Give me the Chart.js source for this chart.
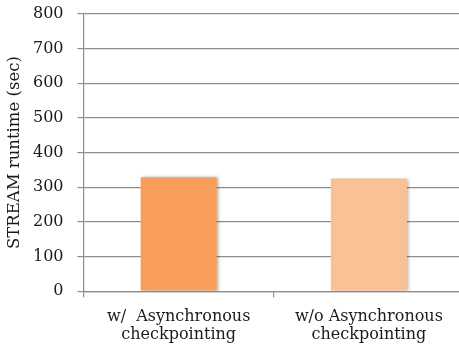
<!DOCTYPE html>
<html>
<head>
<meta charset="utf-8">
<script src="https://cdn.jsdelivr.net/npm/chart.js@4/dist/chart.umd.min.js"></script>
<style>
  html, body { margin: 0; padding: 0; background: #fff; overflow: hidden; }
  #wrap { position: relative; width: 472px; height: 349px; }
</style>
</head>
<body>
<div id="wrap"><canvas id="c"></canvas></div>
<script>
// STREAM runtime with and without asynchronous checkpointing
const categories = [
  ['w/  Asynchronous', 'checkpointing'],
  ['w/o Asynchronous', 'checkpointing']
];
const runtimeSec = [329, 325];
const barColors = ['#F79F5A', '#FAC196'];
const yTicks = [0, 100, 200, 300, 400, 500, 600, 700, 800];

const serif = '"DejaVu Serif", "Liberation Serif", serif';

// soft shadow to the right of each bar
const barShadow = {
  id: 'barShadow',
  beforeDatasetsDraw(chart) {
    const ctx = chart.ctx;
    ctx.save();
    ctx.shadowColor = 'rgba(0,0,0,0.28)';
    ctx.shadowBlur = 3;
    ctx.shadowOffsetX = 2;
    ctx.shadowOffsetY = 0;
  },
  afterDatasetsDraw(chart) {
    chart.ctx.restore();
  }
};

new Chart(document.getElementById('c'), {
  type: 'bar',
  data: {
    labels: categories,
    datasets: [{
      data: runtimeSec,
      backgroundColor: barColors,
      borderWidth: 0,
      barPercentage: 0.4,
      categoryPercentage: 1.0
    }]
  },
  plugins: [barShadow],
  options: {
    responsive: true,
    maintainAspectRatio: false,
    animation: false,
    layout: { padding: { top: 0, left: 0, right: 8, bottom: -5 } },
    plugins: {
      legend: { display: false },
      tooltip: { enabled: false }
    },
    scales: {
      y: {
        min: 0,
        max: 800,
        afterBuildTicks(axis) { axis.ticks = yTicks.map(v => ({ value: v })); },
        // keep only room for half of the top label above the plot
        afterFit(axis) { axis.paddingTop = 14; axis.paddingBottom = 0; },
        ticks: {
          font: { family: serif, size: 16 },
          color: '#1a1a1a',
          padding: 14
        },
        grid: {
          color: '#8e8e8e',
          lineWidth: 1.2,
          tickLength: 6
        },
        border: { color: '#8e8e8e', width: 1.2 },
        title: {
          display: true,
          text: 'STREAM runtime (sec)',
          font: { family: serif, size: 16.5, lineHeight: 1 },
          color: '#1a1a1a',
          padding: { top: 6.25, bottom: -3.75 }
        }
      },
      x: {
        ticks: {
          font: { family: serif, size: 16, lineHeight: 1.15 },
          color: '#1a1a1a',
          padding: 10,
          maxRotation: 0
        },
        grid: {
          drawOnChartArea: false,
          color: '#8e8e8e',
          lineWidth: 1.2,
          tickLength: 6
        },
        border: { color: '#8e8e8e', width: 1.2 }
      }
    }
  }
});
</script>
</body>
</html>
